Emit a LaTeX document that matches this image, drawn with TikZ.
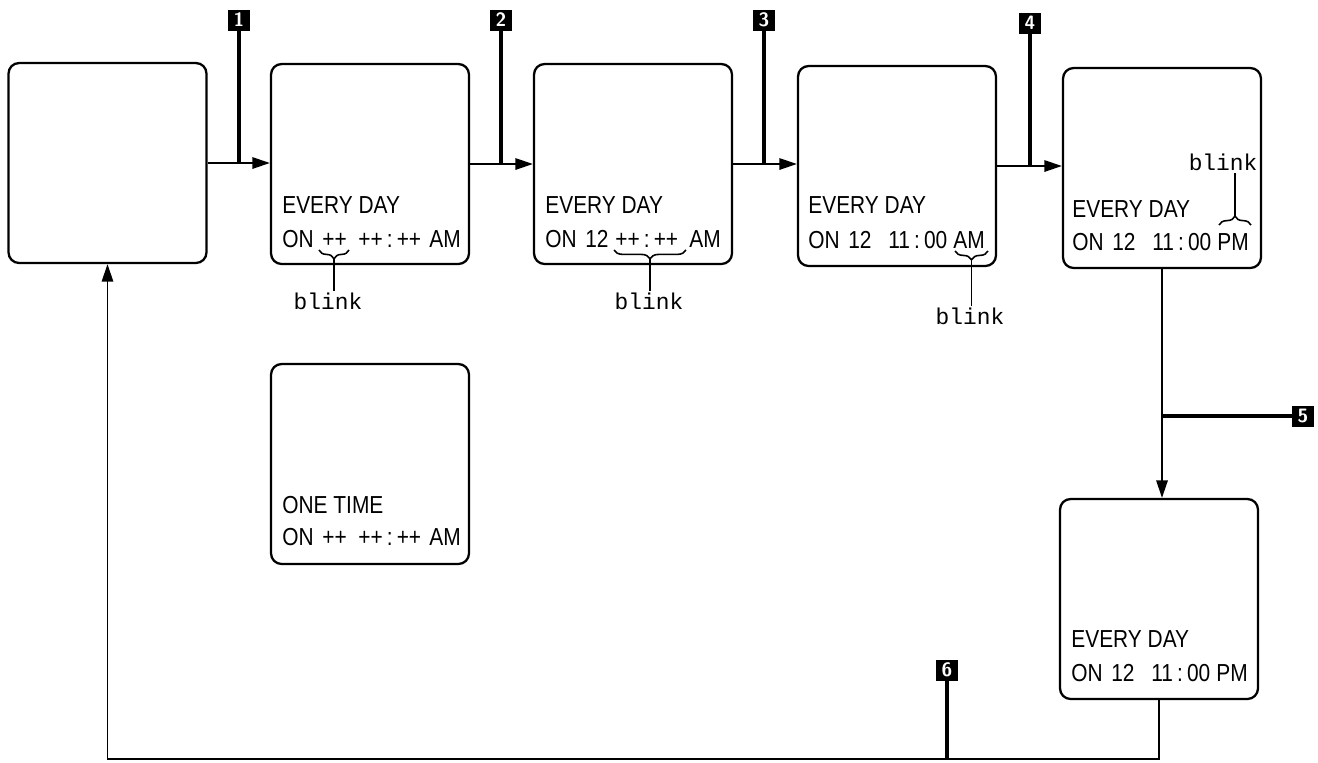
\documentclass[tikz,border=0pt]{standalone}
\usepackage{fontspec}
\newfontfamily\lcdfont[FakeStretch=0.85]{Liberation Sans}
\newfontfamily\blinkfont{Liberation Mono}
\usetikzlibrary{arrows.meta,decorations.pathreplacing}

\tikzset{
	screen/.style={draw, line width=1.3pt, rounded corners=6pt, minimum width=3.96cm, minimum height=4cm, inner sep=0pt},
	lcdtext/.style={anchor=base west, inner sep=0pt, font=\lcdfont\fontsize{14}{16}\selectfont},
	blinktext/.style={inner sep=1pt, font=\blinkfont\fontsize{13}{15}\selectfont},
	stepmark/.style={fill=black, text=white, minimum width=0.44cm, minimum height=0.42cm, inner sep=0pt, font=\sffamily\bfseries\fontsize{11}{12}\selectfont},
	flow/.style={line width=1.1pt, -{Triangle[length=10pt,width=6.5pt]}},
	wire/.style={line width=1.1pt},
	push/.style={line width=2.8pt},
	upbrace/.style={line width=0.9pt, decorate, decoration={brace, amplitude=5pt}},
	downbrace/.style={line width=0.9pt, decorate, decoration={brace, mirror, amplitude=5pt}},
}
\newcommand\seg[2]{\makebox[#1][l]{#2}}

\begin{document}
\begin{tikzpicture}[x=0.02cm, y=-0.02cm]
	\useasboundingbox (0,0) rectangle (1318,762);
	
	% Anzeigen
	\node[screen] (b0) at (107.5,163) {};
	\node[screen] (b1) at (370,164) {};
	\node[screen] (b2) at (633,164) {};
	\node[screen] (b3) at (897,166) {};
	\node[screen] (b4) at (1162,168) {};
	\node[screen] (b5) at (370,464) {};
	\node[screen] (b6) at (1159,599) {};
	
	% Texte
	\node[lcdtext] (e1) at (282,213) {EVERY\ DAY};
	\node[lcdtext] (o1) at (282,247) {\seg{0.8cm}{ON}\seg{0.72cm}{++}\seg{1.42cm}{++\,:\,++}AM};
	\node[lcdtext] (e2) at (545,213) {EVERY\ DAY};
	\node[lcdtext] (o2) at (545,247) {\seg{0.8cm}{ON}\seg{0.6cm}{12}\seg{1.48cm}{++\,:\,++}AM};
	\node[lcdtext] (e3) at (808,213) {EVERY\ DAY};
	\node[lcdtext] (o3) at (808,248) {\seg{0.8cm}{ON}\seg{0.8cm}{12}\seg{1.3cm}{11\,:\,00}AM};
	\node[lcdtext] (e4) at (1072,217) {EVERY\ DAY};
	\node[lcdtext] (o4) at (1072,250) {\seg{0.8cm}{ON}\seg{0.8cm}{12}\seg{1.3cm}{11\,:\,00}PM};
	\node[lcdtext] (e5) at (282,513) {ONE\ TIME};
	\node[lcdtext] (o5) at (282,545) {\seg{0.8cm}{ON}\seg{0.72cm}{++}\seg{1.42cm}{++\,:\,++}AM};
	\node[lcdtext] (e6) at (1071,647) {EVERY\ DAY};
	\node[lcdtext] (o6) at (1071,681) {\seg{0.8cm}{ON}\seg{0.8cm}{12}\seg{1.3cm}{11\,:\,00}PM};
	
	% blink
	\draw[downbrace] (319,250) -- (349,250);
	\coordinate (t1) at (334,259);
	\node[blinktext] (k1) at (328,301) {blink};
	\draw[wire] (t1) -- (t1 |- k1.north);
	
	\draw[downbrace] (614,250) -- (686,250);
	\coordinate (t2) at (650,259);
	\node[blinktext] (k2) at (649,301) {blink};
	\draw[wire] (t2) -- (t2 |- k2.north);
	
	\draw[downbrace] (955,251) -- (988,251);
	\coordinate (t3) at (971.5,260);
	\node[blinktext] (k3) at (970,316) {blink};
	\draw[wire] (t3) -- (t3 |- k3.north);
	
	\draw[upbrace] (1219,225) -- (1251,225);
	\coordinate (t4) at (1235,216);
	\node[blinktext] (k4) at (1223,162) {blink};
	\draw[wire] (t4) -- (t4 |- k4.south);
	
	% Schritte
	\node[stepmark] (m1) at (239,20) {1};
	\node[stepmark] (m2) at (501,20) {2};
	\node[stepmark] (m3) at (764,20) {3};
	\node[stepmark] (m4) at (1030,23) {4};
	\node[stepmark] (m5) at (1303,416) {5};
	\node[stepmark] (m6) at (947,670) {6};
	
	% Pfeile
	\draw[flow] (b0.east) -- (b0.east -| b1.west);
	\draw[flow] (b1.east) -- (b1.east -| b2.west);
	\draw[flow] (b2.east) -- (b2.east -| b3.west);
	\draw[flow] (b3.east) -- (b3.east -| b4.west);
	\draw[flow] (b4.south) -- (b4.south |- b6.north);
	\coordinate (loop) at (107.5,759);
	\draw[flow] (b6.south) |- (loop) -- (b0.south);
	
	\draw[push] (m1.south) -- (m1.south |- b0.east);
	\draw[push] (m2.south) -- (m2.south |- b1.east);
	\draw[push] (m3.south) -- (m3.south |- b2.east);
	\draw[push] (m4.south) -- (m4.south |- b3.east);
	\draw[push] (m5.west) -- (m5.west -| b4.south);
	\draw[push] (m6.south) -- (m6.south |- loop);
\end{tikzpicture}
\end{document}
